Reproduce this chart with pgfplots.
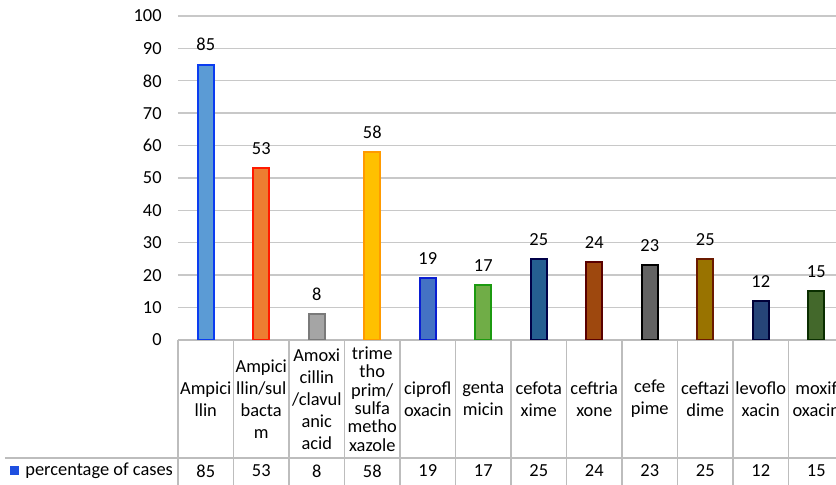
\documentclass[border=0pt]{standalone}
\usepackage{pgfplots}
\pgfplotsset{compat=1.18}
\usepackage{fontspec}
\setmainfont{Carlito}
\definecolor{gridgray}{HTML}{C8C8C8}
\definecolor{tablegray}{HTML}{BDBDBD}
\definecolor{fA}{HTML}{5B9BD5}\definecolor{dA}{HTML}{0A3CF0}
\definecolor{fB}{HTML}{ED7D31}\definecolor{dB}{HTML}{FF1A00}
\definecolor{fC}{HTML}{A5A5A5}\definecolor{dC}{HTML}{7A7A7A}
\definecolor{fD}{HTML}{FFC000}\definecolor{dD}{HTML}{FF9A00}
\definecolor{fE}{HTML}{4472C4}\definecolor{dE}{HTML}{0A1ED2}
\definecolor{fF}{HTML}{70AD47}\definecolor{dF}{HTML}{1C9A10}
\definecolor{fG}{HTML}{255E91}\definecolor{dG}{HTML}{000048}
\definecolor{fH}{HTML}{9E480E}\definecolor{dH}{HTML}{5A0000}
\definecolor{fI}{HTML}{636363}\definecolor{dI}{HTML}{000000}
\definecolor{fJ}{HTML}{997300}\definecolor{dJ}{HTML}{6B1A00}
\definecolor{fK}{HTML}{264478}\definecolor{dK}{HTML}{000038}
\definecolor{fL}{HTML}{43682B}\definecolor{dL}{HTML}{0A2E00}
\definecolor{legblue}{HTML}{1F4FE0}
\begin{document}
\begin{tikzpicture}[font=\fontsize{9.2}{11}\selectfont]
\useasboundingbox (-89pt,-72.5pt) rectangle (329pt,170pt);
\clip (-89pt,-72.5pt) rectangle (329pt,170pt);
\begin{axis}[
  at={(0,0)}, anchor=south west,
  scale only axis, width=333pt, height=162pt,
  xmin=-0.5, xmax=11.5, ymin=0, ymax=100,
  ytick={0,10,...,100}, xtick=\empty,
  ymajorgrids, grid style={draw=gridgray, line width=0.7pt},
  axis x line*=bottom, axis y line*=left,
  y axis line style={draw=none},
  x axis line style={draw=tablegray, line width=0.7pt, -},
  major tick length=0pt,
  yticklabel style={font=\fontsize{9.2}{11}\selectfont, inner sep=0pt, xshift=-8pt},
  /pgf/number format/assume math mode=true,
  mybar/.style={ybar, bar width=8pt, bar shift=0pt, line width=1pt,
    nodes near coords,
    every node near coord/.append style={text=black, font=\fontsize{9.2}{11}\selectfont, yshift=3pt}},
]
\addplot[mybar, fill=fA, draw=dA] coordinates {(0,85)};
\addplot[mybar, fill=fB, draw=dB] coordinates {(1,53)};
\addplot[mybar, fill=fC, draw=dC] coordinates {(2,8)};
\addplot[mybar, fill=fD, draw=dD] coordinates {(3,58)};
\addplot[mybar, fill=fE, draw=dE] coordinates {(4,19)};
\addplot[mybar, fill=fF, draw=dF] coordinates {(5,17)};
\addplot[mybar, fill=fG, draw=dG] coordinates {(6,25)};
\addplot[mybar, fill=fH, draw=dH] coordinates {(7,24)};
\addplot[mybar, fill=fI, draw=dI] coordinates {(8,23)};
\addplot[mybar, fill=fJ, draw=dJ] coordinates {(9,25)};
\addplot[mybar, fill=fK, draw=dK] coordinates {(10,12)};
\addplot[mybar, fill=fL, draw=dL] coordinates {(11,15)};
\end{axis}
% data table
\foreach \k in {0,...,12} \draw[tablegray, line width=0.7pt] ({\k*27.75pt},0) -- ({\k*27.75pt},-73pt);
\draw[tablegray, line width=0.7pt] (-86.5pt,-59pt) -- (334pt,-59pt);
\foreach \lab [count=\i from 0] in {{Ampici\\llin},{Ampici\\llin/sul\\bacta\\m},{Amoxi\\cillin\\/clavul\\anic\\acid},{},{ciprofl\\oxacin},{genta\\micin},{cefota\\xime},{ceftria\\xone},{cefe\\pime},{ceftazi\\dime},{levoflo\\xacin},{moxif\\oxacin}}
  \node[align=center, inner sep=0pt] at ({13.875pt+\i*27.75pt},-29.5pt) {\lab};
\node[align=center, inner sep=0pt, font=\fontsize{9.2}{9.2}\selectfont] at ({13.875pt+3*27.75pt},-29.5pt) {trime\\tho\\prim/\\sulfa\\metho\\xazole};
\foreach \v [count=\i from 0] in {85,53,8,58,19,17,25,24,23,25,12,15}
  \node[inner sep=0pt] at ({13.875pt+\i*27.75pt},-65.5pt) {\v};
\fill[legblue] (-84pt,-63.2pt) rectangle (-79.6pt,-67.6pt);
\node[anchor=west, inner sep=0pt] at (-76.5pt,-65.5pt) {percentage of cases};
\end{tikzpicture}
\end{document}
